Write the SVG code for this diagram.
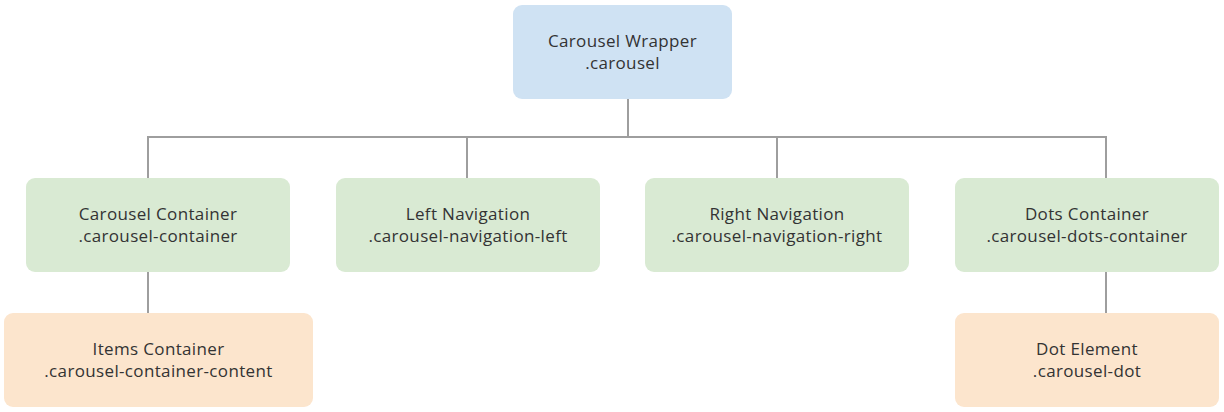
<svg xmlns="http://www.w3.org/2000/svg" width="1224" height="412" viewBox="0 0 1224 412">
<style>
.box{stroke:none}
.blue{fill:#cfe2f3}
.green{fill:#d9ead3}
.orange{fill:#fce5cd}
text{font-family:"Open Sans","Noto Sans",sans-serif;font-size:17px;letter-spacing:0.35px;fill:#333333;text-anchor:middle}
.conn{fill:none;stroke:#9e9e9e;stroke-width:2}
</style>
<rect width="1224" height="412" fill="#ffffff"/>
<g id="connectors">
<path class="conn" d="M628 99V137M148 178V137H1106V178M467 137V178M777 137V178M148 272V313M1106 272V313"/>
</g>
<g id="carousel-wrapper">
<rect class="box blue" x="513" y="5" width="219" height="94" rx="9"/>
<text x="622.5" y="47">Carousel Wrapper</text>
<text x="622.5" y="68.5">.carousel</text>
</g>
<g id="carousel-container">
<rect class="box green" x="26" y="178" width="264" height="94" rx="9"/>
<text x="158" y="220">Carousel Container</text>
<text x="158" y="241.5">.carousel-container</text>
</g>
<g id="left-navigation">
<rect class="box green" x="336" y="178" width="264" height="94" rx="9"/>
<text x="468" y="220">Left Navigation</text>
<text x="468" y="241.5">.carousel-navigation-left</text>
</g>
<g id="right-navigation">
<rect class="box green" x="645" y="178" width="264" height="94" rx="9"/>
<text x="777" y="220">Right Navigation</text>
<text x="777" y="241.5">.carousel-navigation-right</text>
</g>
<g id="dots-container">
<rect class="box green" x="955" y="178" width="264" height="94" rx="9"/>
<text x="1087" y="220">Dots Container</text>
<text x="1087" y="241.5">.carousel-dots-container</text>
</g>
<g id="items-container">
<rect class="box orange" x="4" y="313" width="309" height="94" rx="9"/>
<text x="158.5" y="355">Items Container</text>
<text x="158.5" y="376.5">.carousel-container-content</text>
</g>
<g id="dot-element">
<rect class="box orange" x="955" y="313" width="264" height="94" rx="9"/>
<text x="1087" y="355">Dot Element</text>
<text x="1087" y="376.5">.carousel-dot</text>
</g>
</svg>
